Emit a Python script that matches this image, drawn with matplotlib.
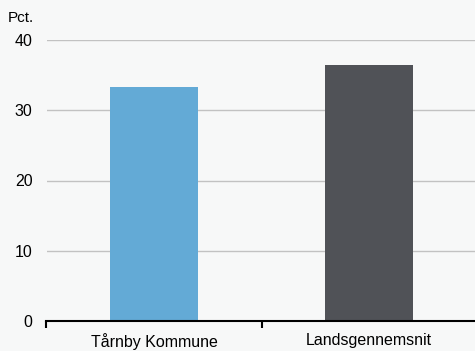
import matplotlib
matplotlib.use("Agg")
import matplotlib.pyplot as plt

categories = ["Tårnby Kommune", "Landsgennemsnit"]
values = [33.3, 36.4]
colors = ["#63aad6", "#505257"]
yticks = [0, 10, 20, 30, 40]

plt.rcParams['font.family'] = ['Liberation Sans', 'DejaVu Sans']
bg = "#f7f8f8"
fig = plt.figure(figsize=(4.75, 3.51), dpi=100, facecolor=bg)
ax = fig.add_axes([46.5/475, 30/351, 430/475, 281/351], facecolor=bg)

x = list(range(len(categories)))
ax.bar(x, values, width=0.405, color=colors, zorder=3)
ax.set_xlim(-0.5, 1.5)
ax.set_ylim(0, 40)
ax.set_yticks(yticks)
ax.set_yticklabels([str(t) for t in yticks], fontsize=11.5)
ax.tick_params(axis='y', length=0, pad=10)
ax.grid(axis='y', color='#c2c2c2', linewidth=1.0, zorder=0)

ax.set_xticks([-0.5, 0.5, 1.5])
ax.set_xticklabels([])
ax.tick_params(axis='x', which='major', length=5, width=1.5, color='black', direction='out')
ax.set_xticks(x, minor=True)
ax.set_xticklabels(categories, minor=True, fontsize=11.5)
ax.tick_params(axis='x', which='minor', length=0, pad=9)

for s in ['top', 'right', 'left']:
    ax.spines[s].set_visible(False)
ax.spines['bottom'].set_linewidth(1.5)
ax.spines['bottom'].set_color('black')
ax.spines['bottom'].set_zorder(4)

fig.text(8/475, 1 - 18/351, "Pct.", fontsize=11, va='center', ha='left')

fig.savefig("out.png", dpi=100, facecolor=bg)
